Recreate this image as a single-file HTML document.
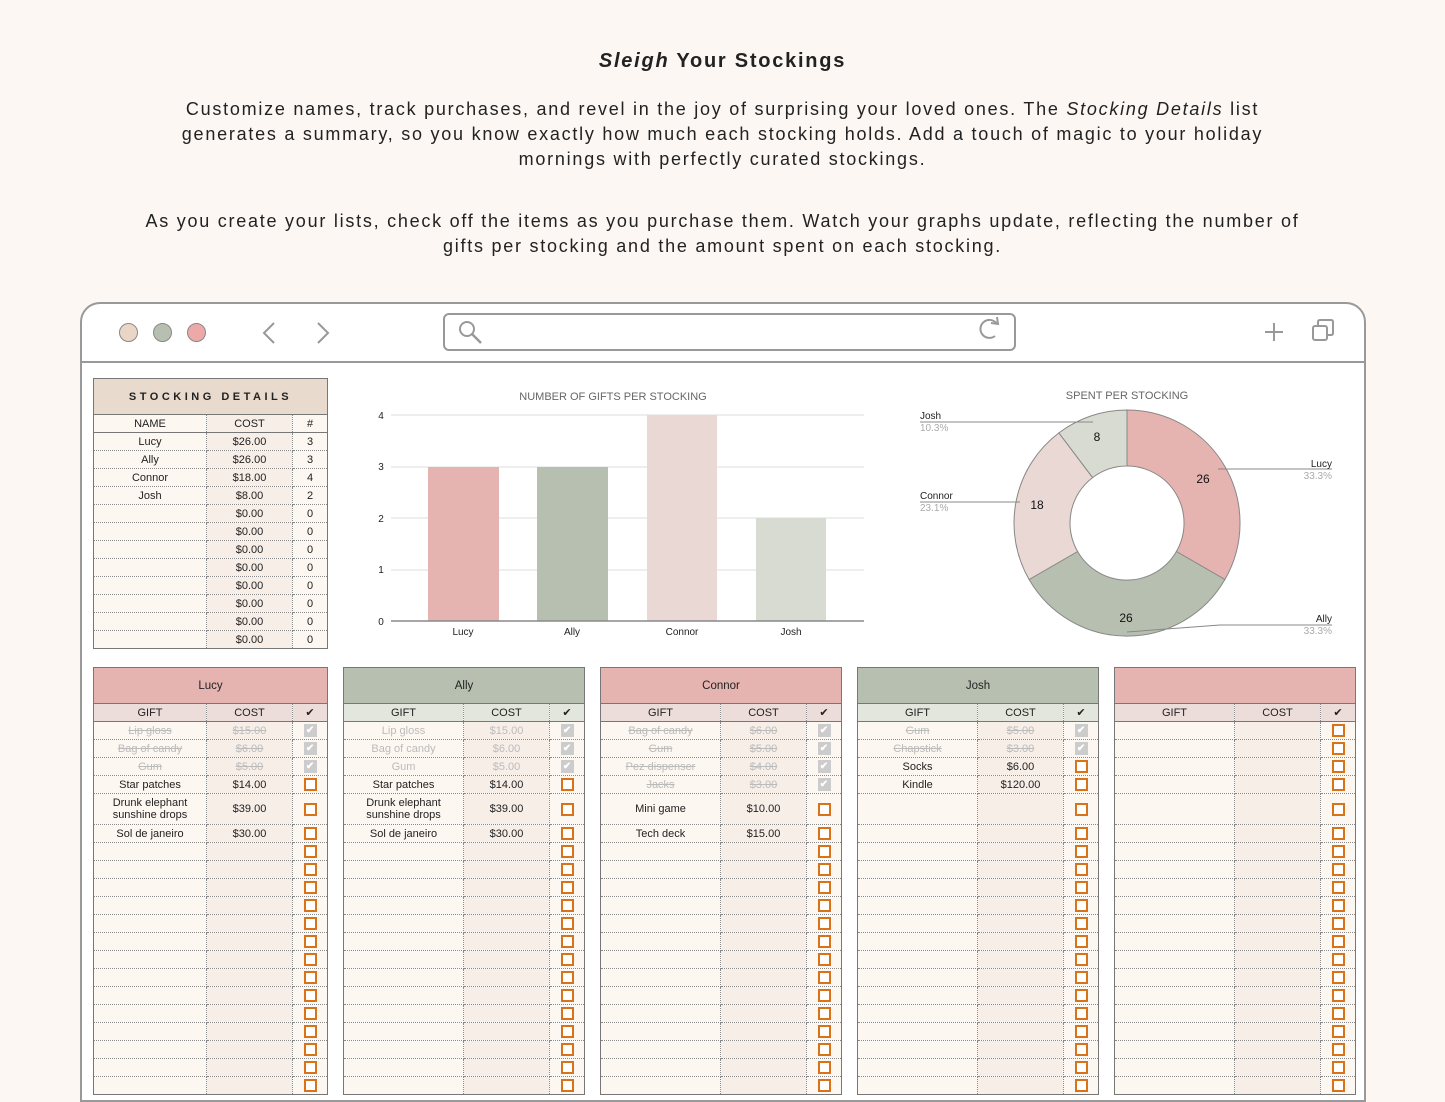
<!DOCTYPE html>
<html><head><meta charset="utf-8"><style>
*{margin:0;padding:0;box-sizing:border-box}
body{width:1445px;height:1084px;overflow:hidden;background:#fcf7f3;font-family:"Liberation Sans",sans-serif;position:relative;color:#222}
.t{position:absolute;left:0;width:1445px;text-align:center;color:#222;letter-spacing:1.75px}
.frame{position:absolute;left:80px;top:302px;width:1286px;height:800px;border:2px solid #999;border-radius:20px 20px 0 0;background:#fff}
.bar{position:absolute;left:0;top:57px;width:100%;border-top:2px solid #999}
.dot{position:absolute;top:19px;width:19px;height:19px;border-radius:50%;border:1.5px solid #888}
table{position:absolute;border-collapse:collapse;table-layout:fixed;font-size:11px;text-align:center;border:1px solid #777}
td{border:1px dotted #888;height:18px;padding:0;line-height:12px;overflow:hidden;white-space:nowrap}
td.c{background:#f7eee8}
tr.tl td{height:31px;white-space:normal}
.hd td{height:36px;font-size:11.5px;border:1px solid #777}
.ch td{border-bottom:1px solid #777}
.g td{color:#bbb;text-decoration:line-through}
span.x{display:inline-block;width:13px;height:13px;background:#fff;box-shadow:inset 0 0 0 2px #d9731a;vertical-align:middle}
b.k{display:inline-block;width:13px;height:13px;background:#ccc;color:#fff;font-size:10px;line-height:13px;vertical-align:middle;text-decoration:none}
tbody{background:#fdf7f1}
</style></head><body>
<div class="t" style="top:50px;font-size:20px;font-weight:bold"><em>Sleigh</em> Your Stockings</div>
<div class="t" style="top:97px;font-size:18px;line-height:25px;padding:0 170px">Customize names, track purchases, and revel in the joy of surprising your loved ones. The <em>Stocking Details</em> list generates a summary, so you know exactly how much each stocking holds. Add a touch of magic to your holiday mornings with perfectly curated stockings.</div>
<div class="t" style="top:209px;font-size:18px;line-height:25px;padding:0 135px">As you create your lists, check off the items as you purchase them. Watch your graphs update, reflecting the number of gifts per stocking and the amount spent on each stocking.</div>

<div class="frame">
<div class="dot" style="left:37px;background:#ead6c6"></div>
<div class="dot" style="left:71px;background:#b7c0b0"></div>
<div class="dot" style="left:105px;background:#eda9a8"></div>
<svg style="position:absolute;left:0;top:0" width="1286" height="60">
<path d="M192 19 L182 29 L192 39 M236 19 L246 29 L236 39" stroke="#999" stroke-width="2" fill="none"/>
<rect x="362" y="10" width="571" height="36" rx="5" fill="none" stroke="#999" stroke-width="2"/>
<circle cx="385" cy="25" r="7" stroke="#999" stroke-width="2" fill="none"/><path d="M390 30 L399 39" stroke="#999" stroke-width="2.5"/>
<path d="M915 20 A9 9 0 1 0 913 32" stroke="#999" stroke-width="2" fill="none"/><path d="M909 19 L916 20 L915 13" stroke="#999" stroke-width="2" fill="none"/>
<path d="M1192 19 V37 M1183 28 H1201" stroke="#999" stroke-width="2"/>
<rect x="1231" y="22" width="14" height="14" rx="2" stroke="#999" stroke-width="2" fill="#fff"/><path d="M1236 22 V18 Q1236 16 1238 16 H1249 Q1251 16 1251 18 V29 Q1251 31 1249 31 H1245" stroke="#999" stroke-width="2" fill="none"/>
</svg>
<div class="bar"></div>
</div>

<svg style="position:absolute;left:0;top:0" width="1445" height="1084" font-family="Liberation Sans, sans-serif">
<text x="613" y="400" font-size="11" fill="#666" text-anchor="middle">NUMBER OF GIFTS PER STOCKING</text>
<g stroke="#ddd"><line x1="391" y1="415" x2="864" y2="415"/><line x1="391" y1="467" x2="864" y2="467"/><line x1="391" y1="518" x2="864" y2="518"/><line x1="391" y1="570" x2="864" y2="570"/></g>
<rect x="428" y="467" width="71" height="154" fill="#e5b3b0"/>
<rect x="537" y="467" width="71" height="154" fill="#b7c0b0"/>
<rect x="647" y="415" width="70" height="206" fill="#ead8d5"/>
<rect x="756" y="518" width="70" height="103" fill="#d8dbd2"/>
<line x1="391" y1="621" x2="864" y2="621" stroke="#888" stroke-width="1.5"/>
<g font-size="10" fill="#222" text-anchor="middle"><text x="381" y="419">4</text><text x="381" y="470">3</text><text x="381" y="522">2</text><text x="381" y="573">1</text><text x="381" y="625">0</text>
<text x="463" y="635">Lucy</text><text x="572" y="635">Ally</text><text x="682" y="635">Connor</text><text x="791" y="635">Josh</text></g>

<text x="1127" y="399" font-size="11" fill="#666" text-anchor="middle">SPENT PER STOCKING</text>
<g stroke="#888" stroke-width="1">
<path d="M1127 410 A113 113 0 0 1 1224.9 579.5 L1176.4 551.5 A57 57 0 0 0 1127 466Z" fill="#e5b3b0"/>
<path d="M1224.9 579.5 A113 113 0 0 1 1029.1 579.5 L1077.6 551.5 A57 57 0 0 0 1176.4 551.5Z" fill="#b7c0b0"/>
<path d="M1029.1 579.5 A113 113 0 0 1 1058.9 432.9 L1092.6 477.6 A57 57 0 0 0 1077.6 551.5Z" fill="#ead8d5"/>
<path d="M1058.9 432.9 A113 113 0 0 1 1127 410 L1127 466 A57 57 0 0 0 1092.6 477.6Z" fill="#d8dbd2"/>
<path d="M920 422 H1093 M1218 469 H1332 M920 502 H1020 M1127 632 L1220 625 H1332" fill="none"/>
</g>
<g font-size="12" fill="#111" text-anchor="middle"><text x="1203" y="483">26</text><text x="1126" y="622">26</text><text x="1037" y="509">18</text><text x="1097" y="441">8</text></g>
<g font-size="10"><text x="920" y="419" fill="#222">Josh</text><text x="920" y="431" fill="#aaa">10.3%</text>
<text x="920" y="499" fill="#222">Connor</text><text x="920" y="511" fill="#aaa">23.1%</text>
<text x="1332" y="467" fill="#222" text-anchor="end">Lucy</text><text x="1332" y="479" fill="#aaa" text-anchor="end">33.3%</text>
<text x="1332" y="622" fill="#222" text-anchor="end">Ally</text><text x="1332" y="634" fill="#aaa" text-anchor="end">33.3%</text></g>
</svg>

<table style="left:93px;top:378px;width:235px">
<colgroup><col style="width:113px"><col style="width:86px"><col style="width:35px"></colgroup>
<tr class="hd"><td colspan="3" style="background:#e9dace;font-weight:bold;letter-spacing:3.5px;font-size:11px">STOCKING DETAILS</td></tr>
<tbody>
<tr class="ch"><td>NAME</td><td class="c">COST</td><td>#</td></tr>
<tr><td>Lucy</td><td class="c">$26.00</td><td>3</td></tr>
<tr><td>Ally</td><td class="c">$26.00</td><td>3</td></tr>
<tr><td>Connor</td><td class="c">$18.00</td><td>4</td></tr>
<tr><td>Josh</td><td class="c">$8.00</td><td>2</td></tr>
<tr><td></td><td class="c">$0.00</td><td>0</td></tr>
<tr><td></td><td class="c">$0.00</td><td>0</td></tr>
<tr><td></td><td class="c">$0.00</td><td>0</td></tr>
<tr><td></td><td class="c">$0.00</td><td>0</td></tr>
<tr><td></td><td class="c">$0.00</td><td>0</td></tr>
<tr><td></td><td class="c">$0.00</td><td>0</td></tr>
<tr><td></td><td class="c">$0.00</td><td>0</td></tr>
<tr><td></td><td class="c">$0.00</td><td>0</td></tr>
</tbody></table>

<table style="left:93px;top:667px;width:235px">
<colgroup><col style="width:113px"><col style="width:86px"><col style="width:35px"></colgroup>
<tr class="hd"><td colspan="3" style="background:#e5b3b0">Lucy</td></tr>
<tbody>
<tr class="ch" style="background:#ecdcda"><td>GIFT</td><td>COST</td><td>✔</td></tr>
<tr class="g"><td>Lip gloss</td><td class="c">$15.00</td><td><b class="k">✔</b></td></tr>
<tr class="g"><td>Bag of candy</td><td class="c">$6.00</td><td><b class="k">✔</b></td></tr>
<tr class="g"><td>Gum</td><td class="c">$5.00</td><td><b class="k">✔</b></td></tr>
<tr><td>Star patches</td><td class="c">$14.00</td><td><span class="x"></span></td></tr>
<tr class="tl"><td>Drunk elephant sunshine drops</td><td class="c">$39.00</td><td><span class="x"></span></td></tr>
<tr><td>Sol de janeiro</td><td class="c">$30.00</td><td><span class="x"></span></td></tr>
<tr><td></td><td class="c"></td><td><span class="x"></span></td></tr><tr><td></td><td class="c"></td><td><span class="x"></span></td></tr><tr><td></td><td class="c"></td><td><span class="x"></span></td></tr><tr><td></td><td class="c"></td><td><span class="x"></span></td></tr><tr><td></td><td class="c"></td><td><span class="x"></span></td></tr><tr><td></td><td class="c"></td><td><span class="x"></span></td></tr><tr><td></td><td class="c"></td><td><span class="x"></span></td></tr><tr><td></td><td class="c"></td><td><span class="x"></span></td></tr><tr><td></td><td class="c"></td><td><span class="x"></span></td></tr><tr><td></td><td class="c"></td><td><span class="x"></span></td></tr><tr><td></td><td class="c"></td><td><span class="x"></span></td></tr><tr><td></td><td class="c"></td><td><span class="x"></span></td></tr><tr><td></td><td class="c"></td><td><span class="x"></span></td></tr><tr><td></td><td class="c"></td><td><span class="x"></span></td></tr>
</tbody></table>

<table style="left:343px;top:667px;width:242px">
<colgroup><col style="width:120px"><col style="width:86px"><col style="width:35px"></colgroup>
<tr class="hd"><td colspan="3" style="background:#b7c0b0">Ally</td></tr>
<tbody>
<tr class="ch" style="background:#e3e6dd"><td>GIFT</td><td>COST</td><td>✔</td></tr>
<tr class="g"><td style="text-decoration:none">Lip gloss</td><td class="c" style="text-decoration:none">$15.00</td><td><b class="k">✔</b></td></tr>
<tr class="g"><td style="text-decoration:none">Bag of candy</td><td class="c" style="text-decoration:none">$6.00</td><td><b class="k">✔</b></td></tr>
<tr class="g"><td style="text-decoration:none">Gum</td><td class="c" style="text-decoration:none">$5.00</td><td><b class="k">✔</b></td></tr>
<tr><td>Star patches</td><td class="c">$14.00</td><td><span class="x"></span></td></tr>
<tr class="tl"><td>Drunk elephant sunshine drops</td><td class="c">$39.00</td><td><span class="x"></span></td></tr>
<tr><td>Sol de janeiro</td><td class="c">$30.00</td><td><span class="x"></span></td></tr>
<tr><td></td><td class="c"></td><td><span class="x"></span></td></tr><tr><td></td><td class="c"></td><td><span class="x"></span></td></tr><tr><td></td><td class="c"></td><td><span class="x"></span></td></tr><tr><td></td><td class="c"></td><td><span class="x"></span></td></tr><tr><td></td><td class="c"></td><td><span class="x"></span></td></tr><tr><td></td><td class="c"></td><td><span class="x"></span></td></tr><tr><td></td><td class="c"></td><td><span class="x"></span></td></tr><tr><td></td><td class="c"></td><td><span class="x"></span></td></tr><tr><td></td><td class="c"></td><td><span class="x"></span></td></tr><tr><td></td><td class="c"></td><td><span class="x"></span></td></tr><tr><td></td><td class="c"></td><td><span class="x"></span></td></tr><tr><td></td><td class="c"></td><td><span class="x"></span></td></tr><tr><td></td><td class="c"></td><td><span class="x"></span></td></tr><tr><td></td><td class="c"></td><td><span class="x"></span></td></tr>
</tbody></table>

<table style="left:600px;top:667px;width:242px">
<colgroup><col style="width:120px"><col style="width:86px"><col style="width:35px"></colgroup>
<tr class="hd"><td colspan="3" style="background:#e5b3b0">Connor</td></tr>
<tbody>
<tr class="ch" style="background:#ecdcda"><td>GIFT</td><td>COST</td><td>✔</td></tr>
<tr class="g"><td>Bag of candy</td><td class="c">$6.00</td><td><b class="k">✔</b></td></tr>
<tr class="g"><td>Gum</td><td class="c">$5.00</td><td><b class="k">✔</b></td></tr>
<tr class="g"><td>Pez dispenser</td><td class="c">$4.00</td><td><b class="k">✔</b></td></tr>
<tr class="g"><td>Jacks</td><td class="c">$3.00</td><td><b class="k">✔</b></td></tr>
<tr class="tl"><td>Mini game</td><td class="c">$10.00</td><td><span class="x"></span></td></tr>
<tr><td>Tech deck</td><td class="c">$15.00</td><td><span class="x"></span></td></tr>
<tr><td></td><td class="c"></td><td><span class="x"></span></td></tr><tr><td></td><td class="c"></td><td><span class="x"></span></td></tr><tr><td></td><td class="c"></td><td><span class="x"></span></td></tr><tr><td></td><td class="c"></td><td><span class="x"></span></td></tr><tr><td></td><td class="c"></td><td><span class="x"></span></td></tr><tr><td></td><td class="c"></td><td><span class="x"></span></td></tr><tr><td></td><td class="c"></td><td><span class="x"></span></td></tr><tr><td></td><td class="c"></td><td><span class="x"></span></td></tr><tr><td></td><td class="c"></td><td><span class="x"></span></td></tr><tr><td></td><td class="c"></td><td><span class="x"></span></td></tr><tr><td></td><td class="c"></td><td><span class="x"></span></td></tr><tr><td></td><td class="c"></td><td><span class="x"></span></td></tr><tr><td></td><td class="c"></td><td><span class="x"></span></td></tr><tr><td></td><td class="c"></td><td><span class="x"></span></td></tr>
</tbody></table>

<table style="left:857px;top:667px;width:242px">
<colgroup><col style="width:120px"><col style="width:86px"><col style="width:35px"></colgroup>
<tr class="hd"><td colspan="3" style="background:#b7c0b0">Josh</td></tr>
<tbody>
<tr class="ch" style="background:#e3e6dd"><td>GIFT</td><td>COST</td><td>✔</td></tr>
<tr class="g"><td>Gum</td><td class="c">$5.00</td><td><b class="k">✔</b></td></tr>
<tr class="g"><td>Chapstick</td><td class="c">$3.00</td><td><b class="k">✔</b></td></tr>
<tr><td>Socks</td><td class="c">$6.00</td><td><span class="x"></span></td></tr>
<tr><td>Kindle</td><td class="c">$120.00</td><td><span class="x"></span></td></tr>
<tr class="tl"><td></td><td class="c"></td><td><span class="x"></span></td></tr>
<tr><td></td><td class="c"></td><td><span class="x"></span></td></tr>
<tr><td></td><td class="c"></td><td><span class="x"></span></td></tr><tr><td></td><td class="c"></td><td><span class="x"></span></td></tr><tr><td></td><td class="c"></td><td><span class="x"></span></td></tr><tr><td></td><td class="c"></td><td><span class="x"></span></td></tr><tr><td></td><td class="c"></td><td><span class="x"></span></td></tr><tr><td></td><td class="c"></td><td><span class="x"></span></td></tr><tr><td></td><td class="c"></td><td><span class="x"></span></td></tr><tr><td></td><td class="c"></td><td><span class="x"></span></td></tr><tr><td></td><td class="c"></td><td><span class="x"></span></td></tr><tr><td></td><td class="c"></td><td><span class="x"></span></td></tr><tr><td></td><td class="c"></td><td><span class="x"></span></td></tr><tr><td></td><td class="c"></td><td><span class="x"></span></td></tr><tr><td></td><td class="c"></td><td><span class="x"></span></td></tr><tr><td></td><td class="c"></td><td><span class="x"></span></td></tr>
</tbody></table>

<table style="left:1114px;top:667px;width:242px">
<colgroup><col style="width:120px"><col style="width:86px"><col style="width:35px"></colgroup>
<tr class="hd"><td colspan="3" style="background:#e5b3b0">&nbsp;</td></tr>
<tbody>
<tr class="ch" style="background:#ecdcda"><td>GIFT</td><td>COST</td><td>✔</td></tr>
<tr><td></td><td class="c"></td><td><span class="x"></span></td></tr>
<tr><td></td><td class="c"></td><td><span class="x"></span></td></tr>
<tr><td></td><td class="c"></td><td><span class="x"></span></td></tr>
<tr><td></td><td class="c"></td><td><span class="x"></span></td></tr>
<tr class="tl"><td></td><td class="c"></td><td><span class="x"></span></td></tr>
<tr><td></td><td class="c"></td><td><span class="x"></span></td></tr>
<tr><td></td><td class="c"></td><td><span class="x"></span></td></tr><tr><td></td><td class="c"></td><td><span class="x"></span></td></tr><tr><td></td><td class="c"></td><td><span class="x"></span></td></tr><tr><td></td><td class="c"></td><td><span class="x"></span></td></tr><tr><td></td><td class="c"></td><td><span class="x"></span></td></tr><tr><td></td><td class="c"></td><td><span class="x"></span></td></tr><tr><td></td><td class="c"></td><td><span class="x"></span></td></tr><tr><td></td><td class="c"></td><td><span class="x"></span></td></tr><tr><td></td><td class="c"></td><td><span class="x"></span></td></tr><tr><td></td><td class="c"></td><td><span class="x"></span></td></tr><tr><td></td><td class="c"></td><td><span class="x"></span></td></tr><tr><td></td><td class="c"></td><td><span class="x"></span></td></tr><tr><td></td><td class="c"></td><td><span class="x"></span></td></tr><tr><td></td><td class="c"></td><td><span class="x"></span></td></tr>
</tbody></table>
</body></html>
